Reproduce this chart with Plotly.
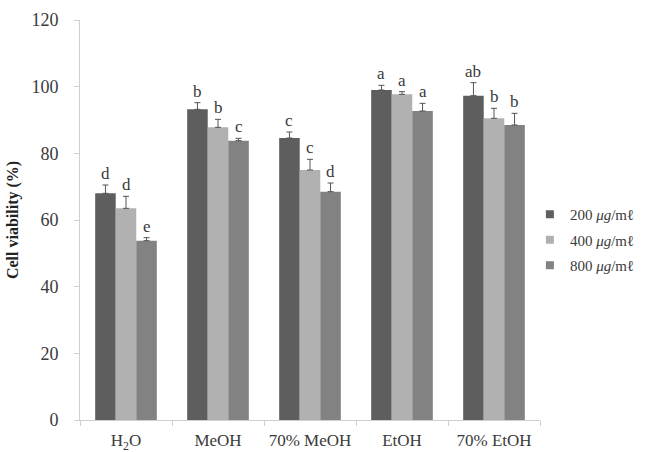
import plotly.graph_objects as go

categories = ["H<sub>2</sub>O", "MeOH", "70% MeOH", "EtOH", "70% EtOH"]
series_names = ["200 <i>μg</i>/mℓ", "400 <i>μg</i>/mℓ", "800 <i>μg</i>/mℓ"]
colors = ["#5e5e5e", "#b1b1b1", "#828282"]

v200 = [68.0, 93.2, 84.6, 99.0, 97.3]
v400 = [63.5, 87.8, 75.0, 97.7, 90.5]
v800 = [53.8, 83.8, 68.5, 92.7, 88.5]
e200 = [2.5, 2.0, 1.8, 1.4, 3.9]
e400 = [3.6, 2.4, 3.2, 0.8, 3.0]
e800 = [0.9, 0.7, 2.6, 2.3, 3.5]
l200 = ["d", "b", "c", "a", "ab"]
l400 = ["d", "b", "c", "a", "b"]
l800 = ["e", "c", "d", "a", "b"]

values = [v200, v400, v800]
errors = [e200, e400, e800]
letters = [l200, l400, l800]

serif = "Liberation Serif, Times New Roman, serif"
txt = "#3a3a3a"
fig = go.Figure()
for i in range(3):
    fig.add_trace(go.Bar(
        x=categories, y=values[i], name=series_names[i], showlegend=False,
        marker=dict(color=colors[i], line=dict(width=0)),
        error_y=dict(type="data", array=errors[i], arrayminus=[0]*5,
                     symmetric=False, color="#555555", thickness=1, width=3),
    ))
# legend entries with small square swatches
for i in range(3):
    fig.add_trace(go.Scatter(
        x=[None], y=[None], mode="markers", name=series_names[i],
        legendgroup=f"g{i}",
        marker=dict(symbol="square", size=8, color=colors[i]),
    ))

bargap = 0.33
bw = (1 - bargap) / 3
for i in range(3):
    for j, c in enumerate(categories):
        fig.add_annotation(
            x=j + (i - 1) * bw, y=values[i][j] + errors[i][j],
            xref="x", yref="y", text=letters[i][j], showarrow=False,
            yanchor="bottom", yshift=0,
            font=dict(family=serif, size=17, color=txt),
        )

fig.update_layout(
    width=646, height=452,
    margin=dict(l=80, r=106, t=20, b=32, autoexpand=False),
    paper_bgcolor="white", plot_bgcolor="white",
    barmode="group", bargap=bargap, bargroupgap=0,
    font=dict(family=serif, size=16, color=txt),
    legend=dict(x=0.978, y=0.45, xanchor="left", yanchor="middle",
                font=dict(family=serif, size=15, color=txt),
                itemwidth=30, tracegroupgap=3, bgcolor="rgba(0,0,0,0)"),
    showlegend=True,
)
fig.update_xaxes(
    showline=True, linecolor="#cfcfcf", linewidth=1,
    ticks="outside", tickson="boundaries", ticklen=5, tickcolor="#cfcfcf",
    showgrid=False, ticklabelstandoff=5,
    tickfont=dict(family=serif, size=17, color=txt),
)
fig.update_yaxes(
    range=[0, 120], dtick=20, showline=True, linecolor="#cfcfcf", linewidth=1,
    ticks="outside", ticklen=5, tickcolor="#cfcfcf", showgrid=False,
    zeroline=False, ticklabelstandoff=12,
    tickfont=dict(family=serif, size=18, color=txt),
    title=dict(text="<b>Cell viability (%)</b>", standoff=8,
               font=dict(family=serif, size=16, color="#222222")),
)
fig.write_html("out.html")
